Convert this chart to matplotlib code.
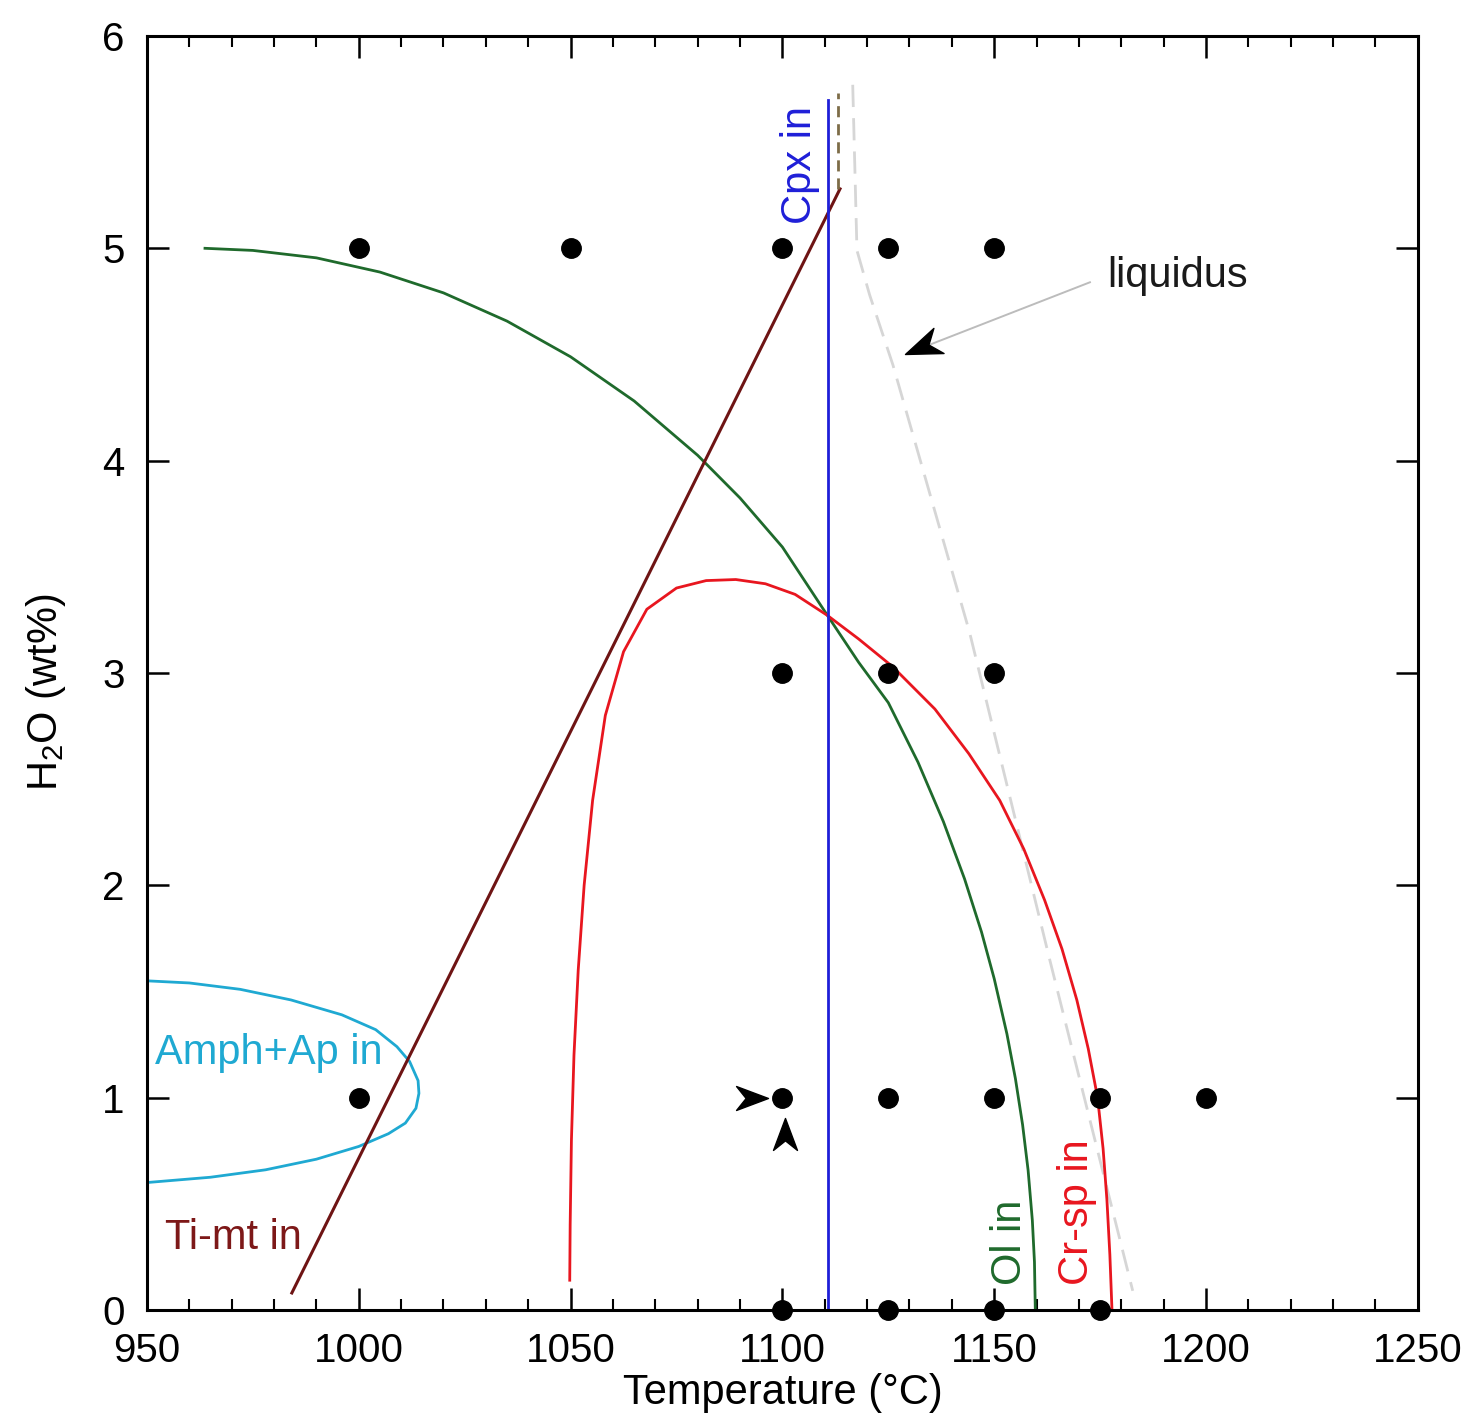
import numpy as np
import matplotlib.pyplot as plt
from matplotlib.path import Path
from matplotlib.markers import MarkerStyle
from matplotlib.transforms import Affine2D
from matplotlib.ticker import MultipleLocator

plt.rcParams['font.family'] = ['Liberation Sans', 'DejaVu Sans']
plt.rcParams['mathtext.fontset'] = 'custom'
plt.rcParams['mathtext.rm'] = 'Liberation Sans'
plt.rcParams['mathtext.it'] = 'Liberation Sans:italic'

# experimental runs
run_T = [1000, 1050, 1100, 1125, 1150,
         1100, 1125, 1150,
         1000, 1100, 1125, 1150, 1175, 1200,
         1100, 1125, 1150, 1175]
run_H = [5, 5, 5, 5, 5,
         3, 3, 3,
         1, 1, 1, 1, 1, 1,
         0, 0, 0, 0]

# phase-in boundaries
cpx_T = [1110.7, 1110.7]
cpx_H = [0.0, 5.70]

timt_T = [984.2, 1113.6]
timt_H = [0.08, 5.28]
timt_ext_T = [1113.2, 1113.2]
timt_ext_H = [5.28, 5.73]

ol_T = [963.7, 975, 990, 1005, 1020, 1035, 1050, 1065, 1080, 1090, 1100,
        1110, 1118, 1125, 1132, 1138, 1143, 1147, 1150, 1153, 1155, 1156.7,
        1158, 1159, 1159.5, 1159.7]
ol_H = [5.0, 4.99, 4.955, 4.888, 4.79, 4.657, 4.489, 4.281, 4.025, 3.824, 3.593,
        3.29, 3.05, 2.86, 2.58, 2.30, 2.03, 1.78, 1.56, 1.30, 1.09, 0.872,
        0.658, 0.422, 0.226, 0.0]

crsp_T = [1049.8, 1049.9, 1050.2, 1050.8, 1051.8, 1053.2, 1055.2, 1058.2,
          1062.5, 1068, 1075, 1082, 1089, 1096, 1103, 1110.7, 1118, 1126,
          1136, 1144, 1151.3, 1157, 1161.9, 1166, 1169.5, 1172.2, 1174.4,
          1175.7, 1176.6, 1177.3, 1177.8]
crsp_H = [0.14, 0.4, 0.8, 1.2, 1.6, 2.0, 2.4, 2.8,
          3.1, 3.3, 3.4, 3.435, 3.44, 3.42, 3.37, 3.27, 3.16, 3.03,
          2.83, 2.62, 2.40, 2.17, 1.93, 1.70, 1.46, 1.23, 1.0,
          0.76, 0.52, 0.26, 0.0]

amph_T = [935, 950, 960, 972, 984, 996, 1004, 1009, 1012, 1014, 1014.2,
          1013.5, 1011, 1007, 1000, 990, 978, 965, 950, 935]
amph_H = [1.56, 1.55, 1.54, 1.51, 1.46, 1.39, 1.32, 1.24, 1.17, 1.08, 1.02,
          0.95, 0.88, 0.83, 0.77, 0.71, 0.66, 0.625, 0.60, 0.59]

liq_T = [1116.6, 1117.6, 1120.6, 1126.1, 1144.2, 1163.1, 1182.7]
liq_H = [5.77, 4.99, 4.78, 4.45, 3.19, 1.65, 0.09]

c_blue = '#1f1fd8'
c_timt = '#6e1414'
c_green = '#1f6a2c'
c_red = '#e8161f'
c_cyan = '#1fa9d2'

# stealth-style arrowhead, tip at the origin
head = Path([(0, 0), (-2, 0.75), (-1.4, 0), (-2, -0.75), (0, 0)],
            [Path.MOVETO, Path.LINETO, Path.LINETO, Path.LINETO, Path.CLOSEPOLY])


def arrow_marker(deg):
    return MarkerStyle(head, transform=Affine2D().rotate_deg(deg))


fig = plt.figure(figsize=(14.74, 14.16), dpi=100)
ax = fig.add_axes([0.0997, 0.0749, 0.8622, 0.8997])

ax.plot(liq_T, liq_H, color='#d6d6d6', lw=2, dashes=(8, 4))
ax.plot(amph_T, amph_H, color=c_cyan, lw=2)
ax.plot(ol_T, ol_H, color=c_green, lw=2)
ax.plot(crsp_T, crsp_H, color=c_red, lw=2)
ax.plot(timt_T, timt_H, color=c_timt, lw=2.2)
ax.plot(timt_ext_T, timt_ext_H, color='#7d6c48', lw=2, dashes=(4, 2.5))
ax.plot(cpx_T, cpx_H, color=c_blue, lw=2)

ax.plot(run_T, run_H, 'o', color='black', ms=14, clip_on=False, zorder=5)

# liquidus pointer
ax.plot([1172.6, 1129.5], [4.84, 4.505], color='#bcbcbc', lw=1.4)
ax.plot([1128.9], [4.50], marker=arrow_marker(202), color='black', ms=52, lw=0)

# arrows marking the 1100 C / 1 wt% run
ax.plot([1096.6], [1.0], marker=arrow_marker(0), color='black', ms=46, lw=0)
ax.plot([1100.6], [0.905], marker=arrow_marker(90), color='black', ms=46, lw=0)

ax.text(1104.1, 5.39, 'Cpx in', color=c_blue, fontsize=30, rotation=90,
        ha='center', va='center')
ax.text(1153.7, 0.32, 'Ol in', color=c_green, fontsize=30, rotation=90,
        ha='center', va='center')
ax.text(1169.5, 0.46, 'Cr-sp in', color=c_red, fontsize=30, rotation=90,
        ha='center', va='center')
ax.text(954.2, 0.34, 'Ti-mt in', color='#7d1818', fontsize=30,
        ha='left', va='center')
ax.text(951.9, 1.21, 'Amph+Ap in', color=c_cyan, fontsize=30,
        ha='left', va='center')
ax.text(1176.8, 4.87, 'liquidus', color='#1a1a1a', fontsize=30,
        ha='left', va='center')

ax.set_xlim(950, 1250)
ax.set_ylim(0, 6)
ax.set_xticks(np.arange(950, 1251, 50))
ax.set_yticks(np.arange(0, 7, 1))
ax.xaxis.set_minor_locator(MultipleLocator(10))
ax.tick_params(which='both', direction='in', top=True, right=True)
ax.tick_params(which='major', length=16, width=1.8, labelsize=29, pad=16)
ax.tick_params(which='minor', length=8, width=1.5)
ax.tick_params(axis='x', which='minor', top=True, bottom=True)
for s in ax.spines.values():
    s.set_linewidth(2.2)

ax.set_xlabel('Temperature (°C)', fontsize=30, labelpad=2)
ax.set_ylabel('H$_2$O (wt%)', fontsize=30)
ax.yaxis.set_label_coords(-0.062, 0.485)

plt.savefig('out.png', dpi=100)
